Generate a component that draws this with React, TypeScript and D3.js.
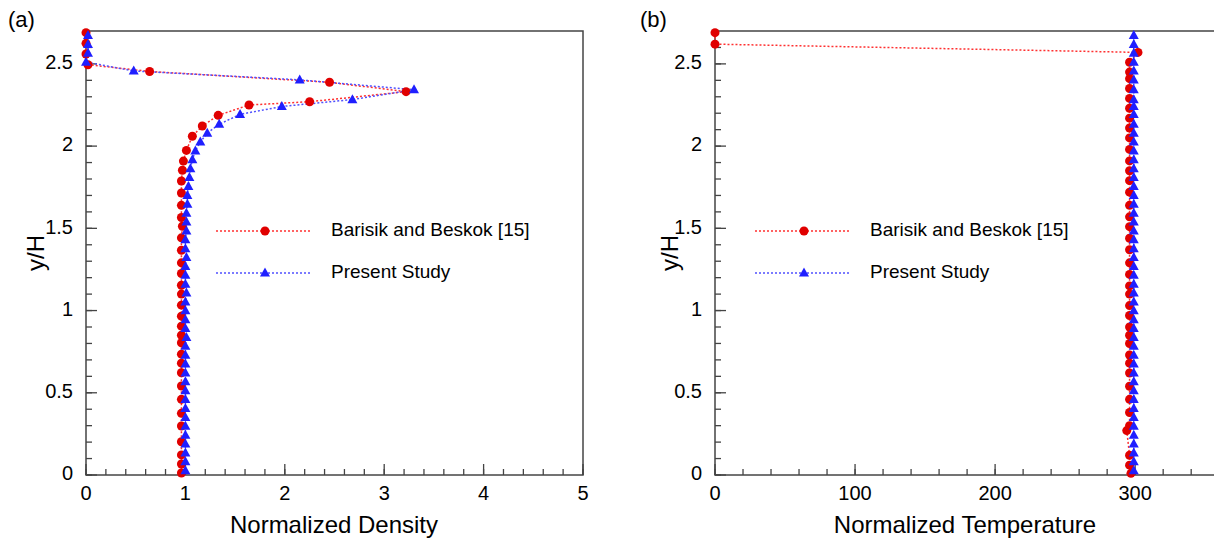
import React from "react";
import * as d3 from "d3";

// ---------- DATA ----------
// Panel (a): Normalized density vs y/H
const densRefX = [0, 0, 0, 0.02, 0.64, 2.45, 3.22, 2.25, 1.64, 1.33, 1.17, 1.07, 1.01, 0.98, 0.97, 0.96, 0.96, 0.96, 0.96, 0.97, 0.96, 0.96, 0.96, 0.96, 0.96, 0.96, 0.96, 0.96, 0.96, 0.96, 0.96, 0.96, 0.96, 0.96, 0.96, 0.96, 0.96, 0.96, 0.96, 0.96, 0.96, 0.96];
const densRefY = [2.69, 2.625, 2.56, 2.495, 2.454, 2.388, 2.331, 2.27, 2.25, 2.187, 2.122, 2.06, 1.974, 1.909, 1.853, 1.788, 1.715, 1.64, 1.566, 1.513, 1.442, 1.367, 1.29, 1.225, 1.154, 1.1, 1.033, 0.966, 0.905, 0.85, 0.804, 0.735, 0.68, 0.622, 0.541, 0.46, 0.375, 0.298, 0.202, 0.122, 0.067, 0.012];

const densPresX = [0.02, 0.02, 0.02, 0.0, 0.48, 2.15, 3.3, 2.68, 1.97, 1.55, 1.34, 1.22, 1.15, 1.1, 1.07, 1.05, 1.04, 1.03, 1.02, 1.02, 1.01, 1.01, 1.01, 1.0, 1.0, 1.01, 1.0, 1.0, 1.0, 1.01, 1.0, 1.0, 1.0, 1.0, 1.01, 1.0, 1.0, 1.0, 1.0, 1.0, 1.0, 1.0, 1.0, 1.0, 1.0, 1.0, 1.0, 1.0, 1.0, 1.0];
const densPresY = [2.673, 2.619, 2.565, 2.511, 2.457, 2.403, 2.343, 2.283, 2.241, 2.193, 2.133, 2.079, 2.025, 1.971, 1.917, 1.863, 1.809, 1.755, 1.701, 1.647, 1.593, 1.539, 1.485, 1.431, 1.377, 1.323, 1.269, 1.215, 1.161, 1.107, 1.053, 0.999, 0.945, 0.891, 0.837, 0.783, 0.729, 0.675, 0.621, 0.567, 0.513, 0.459, 0.405, 0.351, 0.297, 0.243, 0.189, 0.135, 0.081, 0.027];

// Panel (b): Normalized temperature vs y/H
const tempRefX = [0, 0, 302, 296, 296, 296, 296, 296, 296, 296, 296, 296, 296, 296, 296, 296, 296, 296, 296, 296, 296, 296, 296, 296, 296, 296, 296, 296, 296, 296, 296, 296, 296, 296, 296, 296, 296, 296, 294, 296, 296, 297];
const tempRefY = [2.69, 2.62, 2.57, 2.51, 2.45, 2.41, 2.35, 2.29, 2.23, 2.17, 2.11, 2.05, 1.98, 1.91, 1.85, 1.79, 1.72, 1.64, 1.57, 1.51, 1.44, 1.37, 1.29, 1.22, 1.15, 1.1, 1.03, 0.97, 0.9, 0.85, 0.8, 0.73, 0.68, 0.62, 0.54, 0.46, 0.38, 0.3, 0.27, 0.12, 0.06, 0.01];

const tempPresX = [299, 299, 299, 299, 299, 299, 299, 299, 299, 299, 299, 299, 299, 299, 299, 299, 299, 299, 299, 299, 299, 299, 299, 299, 299, 299, 299, 299, 299, 299, 299, 299, 299, 299, 299, 299, 299, 299, 299, 299, 299, 299, 299, 299, 299, 299, 299, 299, 299, 299];
const tempPresY = densPresY;

const densTicks = [0, 1, 2, 3, 4, 5];
const tempTicks = [0, 100, 200, 300];
const yTicks = [0, 0.5, 1, 1.5, 2, 2.5];
const legendLabels = ["Barisik and Beskok [15]", "Present Study"];

// ---------- STYLE ----------
const RED = "#e00000";
const RED_LINE = "#ff3030";
const BLUE = "#1f1fff";
const BLUE_LINE = "#5050ff";
const AXIS = "#444";
const FONT = "Liberation Sans, Arial, sans-serif";

function tri(cx: number, cy: number, s = 10) {
  const h = s * 0.9;
  return `M${cx},${cy - h * 0.6}L${cx + s / 2},${cy + h * 0.4}L${cx - s / 2},${cy + h * 0.4}Z`;
}

type PanelProps = {
  x0: number; x1: number; xMax: number; xTicks: number[]; xMinorStep: number;
  refX: number[]; refY: number[]; presX: number[]; presY: number[];
  title: string; tag: string; tagX: number; yLabelX: number;
  legendX: number; titleX: number;
};

function Panel(p: PanelProps) {
  const top = 31, bottom = 475;
  const x = d3.scaleLinear().domain([0, p.xMax]).range([p.x0, p.x1]);
  const y = d3.scaleLinear().domain([0, 2.7]).range([bottom, top]);
  const line = d3.line<[number, number]>().x(d => x(d[0])).y(d => y(d[1]));
  const refPts: [number, number][] = p.refX.map((v, i) => [v, p.refY[i]]);
  const presPts: [number, number][] = p.presX.map((v, i) => [v, p.presY[i]]);
  const xMinor = d3.range(0, p.xMax + 1e-9, p.xMinorStep);
  const yMinor = d3.range(0, 2.7, 0.1);
  const clipId = "clip" + p.tag.replace(/[()]/g, "");
  return (
    <g>
      <defs>
        <clipPath id={clipId}>
          <rect x={p.x0 - 8} y={top - 8} width={p.x1 - p.x0 + 16} height={bottom - top + 16} />
        </clipPath>
      </defs>
      <text x={p.tagX} y={27} fontSize={22} fontFamily={FONT}>{p.tag}</text>
      {xMinor.map((t, i) => (
        <line key={"xm" + i} x1={x(t)} x2={x(t)} y1={bottom} y2={bottom - 6} stroke={AXIS} strokeWidth={1.3} />
      ))}
      {yMinor.map((t, i) => (
        <line key={"ym" + i} x1={p.x0} x2={p.x0 + 6} y1={y(t)} y2={y(t)} stroke={AXIS} strokeWidth={1.3} />
      ))}
      {p.xTicks.map(t => (
        <g key={"xt" + t}>
          <line x1={x(t)} x2={x(t)} y1={bottom} y2={bottom - 11} stroke={AXIS} strokeWidth={1.3} />
          <text x={x(t)} y={495} fontSize={20} fontFamily={FONT} textAnchor="middle" dominantBaseline="middle">{t}</text>
        </g>
      ))}
      {yTicks.map(t => (
        <g key={"yt" + t}>
          <line x1={p.x0} x2={p.x0 + 11} y1={y(t)} y2={y(t)} stroke={AXIS} strokeWidth={1.3} />
          <text x={p.x0 - 13} y={y(t)} fontSize={20} fontFamily={FONT} textAnchor="end" dominantBaseline="middle">{t}</text>
        </g>
      ))}
      <rect x={p.x0} y={top} width={p.x1 - p.x0} height={bottom - top} fill="none" stroke={AXIS} strokeWidth={1.5} />
      <text x={p.titleX} y={533} fontSize={24} fontFamily={FONT} textAnchor="middle">{p.title}</text>
      <text transform={`translate(${p.yLabelX},253) rotate(-90)`} fontSize={24} fontFamily={FONT} textAnchor="middle" dominantBaseline="middle">y/H</text>
      {/* legend */}
      <line x1={p.legendX} x2={p.legendX + 96} y1={231} y2={231} stroke={RED_LINE} strokeWidth={1.5} strokeDasharray="2,2" />
      <circle cx={p.legendX + 49} cy={231} r={4.5} fill={RED} />
      <text x={p.legendX + 115} y={231} fontSize={19} fontFamily={FONT} dominantBaseline="middle">{legendLabels[0]}</text>
      <line x1={p.legendX} x2={p.legendX + 96} y1={273} y2={273} stroke={BLUE_LINE} strokeWidth={1.5} strokeDasharray="2,2" />
      <path d={tri(p.legendX + 49, 273, 10)} fill={BLUE} />
      <text x={p.legendX + 115} y={273} fontSize={19} fontFamily={FONT} dominantBaseline="middle">{legendLabels[1]}</text>
      {/* data */}
      <g clipPath={`url(#${clipId})`}>
        <path d={line(refPts) || ""} fill="none" stroke={RED_LINE} strokeWidth={1.5} strokeDasharray="2,2" />
        <path d={line(presPts) || ""} fill="none" stroke={BLUE_LINE} strokeWidth={1.5} strokeDasharray="2,2" />
        {refPts.map((d, i) => (
          <circle key={"r" + i} cx={x(d[0])} cy={y(d[1])} r={4.5} fill={RED} />
        ))}
        {presPts.map((d, i) => (
          <path key={"b" + i} d={tri(x(d[0]), y(d[1]), 10)} fill={BLUE} />
        ))}
      </g>
    </g>
  );
}

export default function App() {
  return (
    <svg width={1214} height={545} style={{ position: "absolute", left: 0, top: 0, background: "#fff" }}>
      <rect width={1214} height={545} fill="#fff" />
      <Panel x0={86} x1={583} xMax={5} xTicks={densTicks} xMinorStep={0.2}
        refX={densRefX} refY={densRefY} presX={densPresX} presY={densPresY}
        title="Normalized Density" tag="(a)" tagX={8} yLabelX={38}
        legendX={216} titleX={334} />
      <Panel x0={715} x1={1222} xMax={362} xTicks={tempTicks} xMinorStep={20}
        refX={tempRefX} refY={tempRefY} presX={tempPresX} presY={tempPresY}
        title="Normalized Temperature" tag="(b)" tagX={640} yLabelX={672}
        legendX={755} titleX={965} />
    </svg>
  );
}
